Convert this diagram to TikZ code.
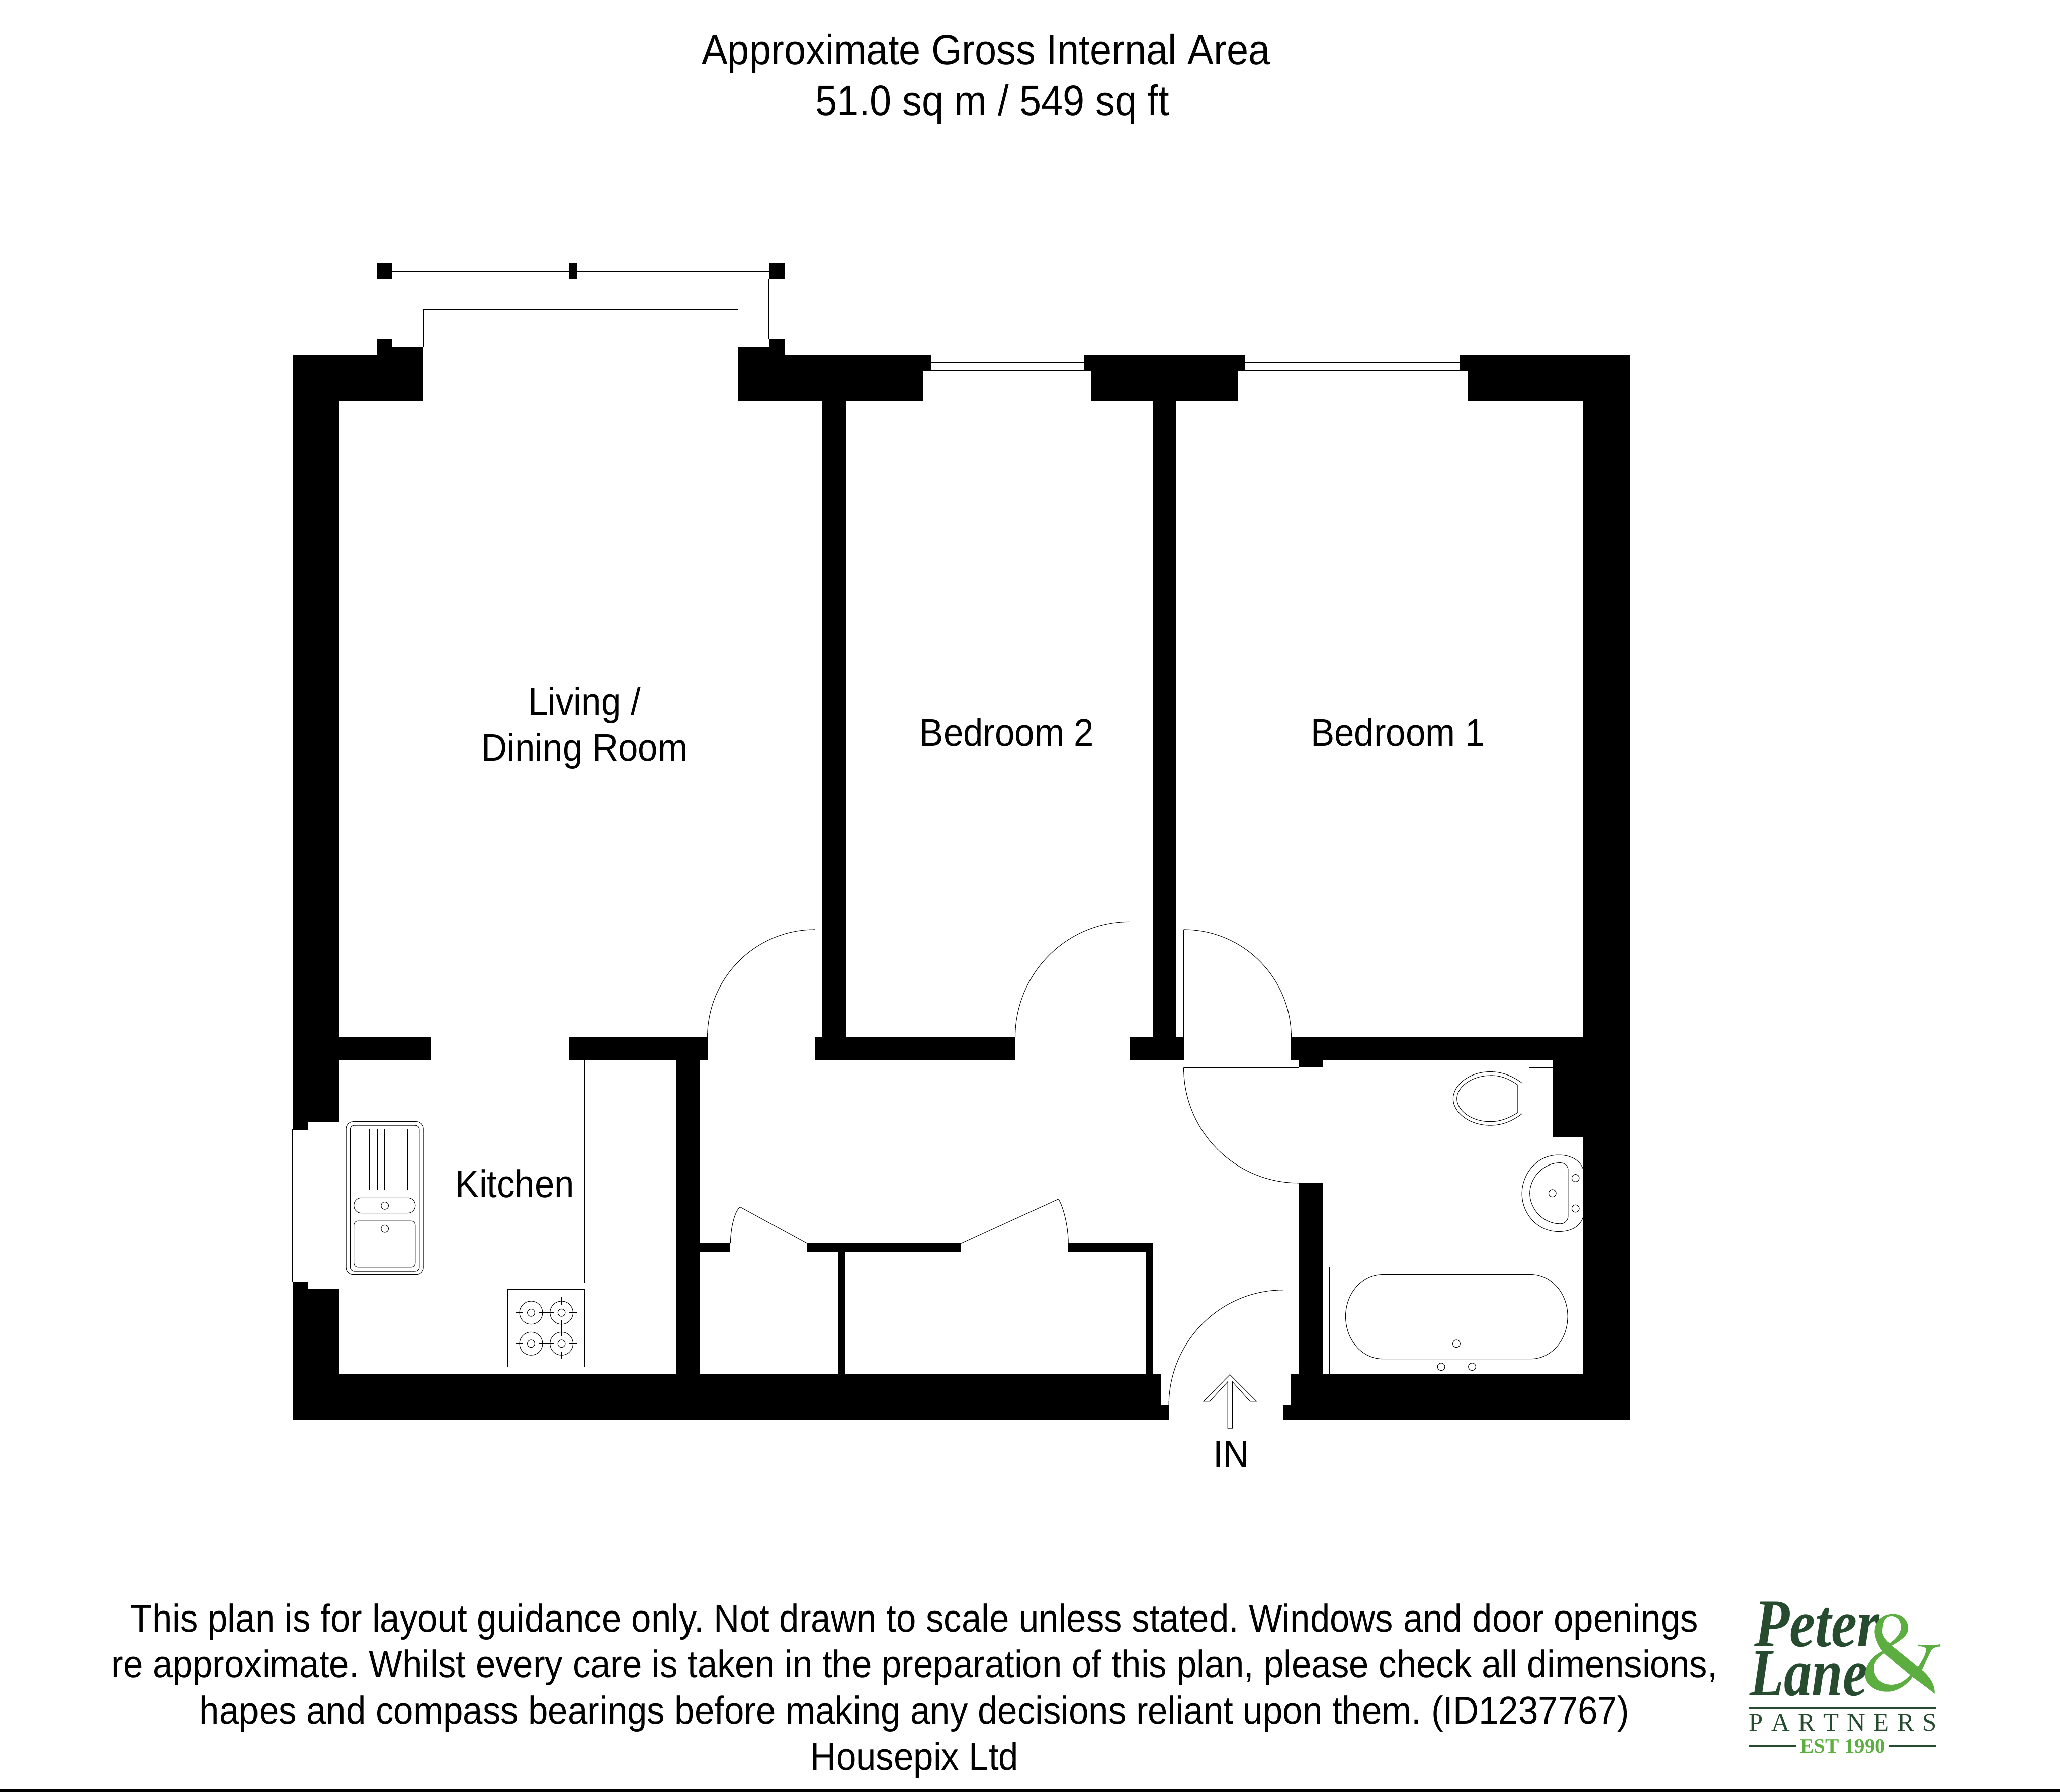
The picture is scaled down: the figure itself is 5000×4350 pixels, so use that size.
\documentclass[tikz,border=0pt]{standalone}
\usepackage{fontspec}
\setmainfont[FakeStretch=0.92]{Liberation Sans}
\newfontfamily\logofont{Liberation Serif}
\usetikzlibrary{calc}
\definecolor{logodark}{HTML}{264B2E}
\definecolor{logolight}{HTML}{5DAE41}
\newcommand{\wl}[4]{\fill[black] (#1,#2) rectangle (#3,#4);}
\newcommand{\qarc}[6]{\draw[thin line] (#1,#2) .. controls ($(#1,#2)!.5523!(#5,#6)$) and ($(#3,#4)!.5523!(#5,#6)$) .. (#3,#4);}
\tikzset{
  thin line/.style={line width=1.25pt,black},
  titlelabel/.style={anchor=base,inner sep=0pt,font=\fontsize{103}{103}\selectfont},
  smalllabel/.style={anchor=base,inner sep=0pt,font=\frenchspacing\fontsize{94}{94}\selectfont},
  logotext/.style={anchor=base,inner sep=0pt,text=logodark},
  logorule/.style={line width=3pt,logodark}
}
\begin{document}
\begin{tikzpicture}[x=1pt,y=-1pt]
\useasboundingbox (0,0) rectangle (5000,4350);
\fill[white] (0,0) rectangle (5000,4350);
% walls
\wl{710}{862}{748}{2742}\wl{748}{862}{823}{2723}
\wl{710}{3113}{748}{3449}\wl{748}{3131}{823}{3449}
\wl{710}{862}{915}{974}\wl{915}{824}{952}{974}\wl{952}{843}{1028}{974}
\wl{1791}{843}{1866}{974}\wl{1866}{824}{1904}{974}\wl{1904}{862}{2240}{974}
\wl{2240}{862}{2259}{899}\wl{2631}{862}{2649}{899}\wl{2649}{862}{3005}{974}
\wl{3005}{862}{3023}{899}\wl{3544}{862}{3562}{899}\wl{3562}{862}{3956}{974}
\wl{3843}{862}{3956}{3449}
\wl{1996}{974}{2053}{2518}\wl{2798}{974}{2855}{2518}
\wl{823}{2518}{1046}{2575}\wl{1381}{2518}{1717}{2575}\wl{1978}{2518}{2464}{2575}
\wl{2742}{2518}{2874}{2575}\wl{3134}{2518}{3843}{2575}
\wl{3152}{2575}{3210}{2592}\wl{3153}{2872}{3210}{3336}
\wl{3768}{2575}{3843}{2761}\wl{1642}{2575}{1699}{3336}
\wl{1699}{3019}{1773}{3039}\wl{1959}{3019}{2333}{3039}\wl{2593}{3019}{2799}{3039}
\wl{2034}{3039}{2052}{3336}\wl{2781}{3039}{2799}{3336}
\wl{710}{3336}{2817}{3449}\wl{2817}{3412}{2837}{3449}
\wl{3115}{3412}{3134}{3449}\wl{3134}{3336}{3956}{3449}
% bay window
\wl{915}{639}{952}{677}\wl{1381}{639}{1401}{677}\wl{1866}{639}{1904}{677}
\draw[thin line] (952,639) -- (1866,639) (952,658) -- (1866,658) (952,677) -- (1866,677);
\draw[thin line] (915,677) -- (915,824) (934,677) -- (934,824) (952,677) -- (952,843);
\draw[thin line] (1866,677) -- (1866,824) (1885,677) -- (1885,824) (1903,677) -- (1903,824);
\draw[thin line] (1028,843) -- (1028,751) -- (1791,751) -- (1791,843);
% bedroom windows
\draw[thin line] (2259,862) -- (2631,862) (2259,880) -- (2631,880) (2240,899) -- (2649,899) (2240,973) -- (2649,973);
\draw[thin line] (3023,862) -- (3544,862) (3023,880) -- (3544,880) (3005,899) -- (3562,899) (3005,973) -- (3562,973);
% kitchen window and units
\draw[thin line] (710,2742) -- (748,2742) (710,3113) -- (748,3113);
\draw[thin line] (710,2742) -- (710,3113) (728,2742) -- (728,3113) (748,2723) -- (748,3131);
\draw[thin line] (823,2723) -- (823,3131);
\draw[thin line] (748,2723) -- (823,2723) (748,3131) -- (823,3131);
\draw[thin line] (1046,2575) -- (1046,3114) -- (1419,3114) -- (1419,2575);
% sink
\draw[thin line,rounded corners=17pt] (840,2723) rectangle (1028,3094);
\draw[thin line,rounded corners=10pt] (850,2732) rectangle (1018,3086);
\foreach \gx in {859,878,896,916,933,952,971,989,1008}
  \draw[thin line] (\gx,2741) -- (\gx,2889);
\draw[thin line,rounded corners=18pt] (859,2908) rectangle (1008,2945);
\draw[thin line,rounded corners=10pt] (859,2964) rectangle (1008,3076);
\draw[thin line] (934,2927) circle[radius=9pt] (934,2983) circle[radius=9pt];
% hob
\draw[thin line] (1232,3131) rectangle (1419,3319);
\foreach \bx/\by in {1289/3187,1363/3187,1289/3262,1363/3262}{
  \draw[thin line] (\bx,\by) circle[radius=28pt] (\bx,\by) circle[radius=9pt];
  \draw[thin line] (\bx-37.5,\by) -- (\bx-19,\by) (\bx+19,\by) -- (\bx+37.5,\by)
                   (\bx,\by-37.5) -- (\bx,\by-19) (\bx,\by+19) -- (\bx,\by+37.5);
}
% doors
\draw[thin line] (1978,2257) -- (1978,2518);
\qarc{1717}{2518}{1978}{2257}{1717}{2257}
\draw[thin line] (2742,2238) -- (2742,2518);
\qarc{2464}{2518}{2742}{2238}{2464}{2238}
\draw[thin line] (2873,2257) -- (2873,2518);
\qarc{2873}{2257}{3134}{2518}{3134}{2257}
\draw[thin line] (2873,2592) -- (3152,2592);
\qarc{2873}{2592}{3152}{2872}{2873}{2872}
\draw[thin line] (3115,3132) -- (3115,3412);
\qarc{2837}{3412}{3115}{3132}{2837}{3132}
\draw[thin line] (1959,3019) -- (1796,2930);
\qarc{1773}{3019}{1796}{2930}{1773}{2950}
\draw[thin line] (2333,3019) -- (2569,2911);
\qarc{2593}{3019}{2569}{2911}{2593}{2950}
% entrance arrow
\draw[thin line] (2980,3468) -- (2980,3354) -- (2936,3402) -- (2921,3402) -- (2985,3337)
  -- (3050,3402) -- (3034,3402) -- (2991,3354) -- (2991,3468) -- cycle;
% toilet
\draw[thin line] (3768,2592) -- (3712,2592) -- (3712,2741) -- (3768,2741);
\draw[thin line] (3712,2629) -- (3694,2629) -- (3694,2704) -- (3712,2704);
\draw[thin line] (3694,2629) .. controls (3665,2608) and (3640,2602) .. (3617,2602)
  .. controls (3565,2602) and (3527,2635) .. (3527,2667)
  .. controls (3527,2700) and (3565,2732) .. (3617,2732)
  .. controls (3640,2732) and (3665,2726) .. (3694,2704);
\draw[thin line] (3684,2634) .. controls (3660,2617) and (3640,2611) .. (3620,2611)
  .. controls (3570,2611) and (3536,2640) .. (3536,2667)
  .. controls (3536,2695) and (3570,2723) .. (3617,2723)
  .. controls (3640,2723) and (3660,2716) .. (3684,2701) -- cycle;
% basin
\draw[thin line] (3843,2840) .. controls (3835,2815) and (3810,2804) .. (3783,2804)
  .. controls (3730,2804) and (3694,2850) .. (3694,2898)
  .. controls (3694,2945) and (3730,2990) .. (3783,2990)
  .. controls (3810,2990) and (3835,2980) .. (3843,2953);
\draw[thin line] (3806,2840) .. controls (3806,2830) and (3797,2823) .. (3787,2823)
  .. controls (3745,2823) and (3713,2860) .. (3713,2897)
  .. controls (3713,2935) and (3745,2971) .. (3787,2971)
  .. controls (3797,2971) and (3806,2963) .. (3806,2953) -- cycle;
\draw[thin line] (3824,2860) circle[radius=9pt] (3824,2934) circle[radius=9pt] (3768,2897) circle[radius=9pt];
% bath
\draw[thin line] (3227,3336) -- (3227,3076) -- (3843,3076);
\draw[thin line] (3356,3094) -- (3716,3094) .. controls (3765,3094) and (3805,3140) .. (3805,3196)
  .. controls (3805,3253) and (3765,3299) .. (3716,3299) -- (3356,3299)
  .. controls (3306,3299) and (3266,3253) .. (3266,3196)
  .. controls (3266,3140) and (3306,3094) .. (3356,3094) -- cycle;
\draw[thin line] (3535,3262) circle[radius=9pt] (3498,3318) circle[radius=9pt] (3573,3318) circle[radius=9pt];
% texts
\node[titlelabel] (title1) at (2393,157) {Approximate Gross Internal Area};
\node[titlelabel] (title2) at (2409,280) {51.0 sq m / 549 sq ft};
\node[smalllabel] (living1) at (1419,1736) {Living /};
\node[smalllabel] (living2) at (1419,1848) {Dining Room};
\node[smalllabel] (bed2) at (2444,1811) {Bedroom 2};
\node[smalllabel] (bed1) at (3393,1811) {Bedroom 1};
\node[smalllabel] (kitchen) at (1250,2907) {Kitchen};
\node[smalllabel] (in) at (2988,3562) {IN};
\node[smalllabel] (note1) at (2220,3962) {This plan is for layout guidance only. Not drawn to scale unless stated. Windows and door openings};
\node[smalllabel] (note2) at (2220,4073) {re approximate. Whilst every care is taken in the preparation of this plan, please check all dimensions,};
\node[smalllabel] (note3) at (2220,4185) {hapes and compass bearings before making any decisions reliant upon them. (ID1237767)};
\node[smalllabel] (note4) at (2220,4297) {Housepix Ltd};
% logo
\node[logotext,font=\logofont\bfseries\itshape\fontsize{165}{165}\selectfont] (logopeter) at (4410,3997) {\scalebox{.85}[1]{Peter}};
\node[logotext,font=\logofont\bfseries\itshape\fontsize{165}{165}\selectfont] (logolane) at (4390,4117) {\scalebox{.82}[1]{Lane}};
\begin{scope}[shift={(4150,3820)},x=.3827pt,y=-.338pt]
\fill[logolight] (1045,420) .. controls (1045,340) and (1100,290) .. (1160,290) .. controls (1225,290) and (1258,340) .. (1258,395) .. controls (1258,445) and (1210,480) .. (1150,520) -- (1135,505) .. controls (1180,470) and (1212,430) .. (1212,385) .. controls (1212,335) and (1185,305) .. (1150,305) .. controls (1115,305) and (1095,345) .. (1095,420) -- cycle;
\fill[logolight] (1045,420) .. controls (1050,480) and (1075,530) .. (1100,565) .. controls (1170,640) and (1230,690) .. (1280,740) .. controls (1340,790) and (1390,830) .. (1425,865) .. controls (1430,810) and (1400,745) .. (1340,690) .. controls (1270,625) and (1210,570) .. (1150,515) .. controls (1120,480) and (1095,450) .. (1095,420) -- cycle;
\fill[logolight] (1100,555) .. controls (1030,590) and (985,660) .. (985,730) .. controls (985,800) and (1050,850) .. (1125,850) .. controls (1190,850) and (1250,800) .. (1285,745) -- (1270,730) .. controls (1240,770) and (1200,800) .. (1150,800) .. controls (1085,800) and (1040,745) .. (1040,680) .. controls (1040,640) and (1065,600) .. (1110,570) -- cycle;
\fill[logolight] (1318,510) .. controls (1360,516) and (1420,516) .. (1462,508) -- (1462,525) .. controls (1440,522) and (1420,530) .. (1405,550) .. controls (1385,590) and (1360,660) .. (1340,705) -- (1315,680) .. controls (1345,630) and (1375,570) .. (1372,540) .. controls (1365,525) and (1340,522) .. (1318,522) -- cycle;
\end{scope}
\draw[logorule] (4245,4146) -- (4700,4146);
\node[logotext,font=\logofont\fontsize{62}{62}\selectfont] (logopartners) at (4473,4202) {\makebox[455pt]{P\hfill A\hfill R\hfill T\hfill N\hfill E\hfill R\hfill S}};
\node[logotext,text=logolight,font=\logofont\bfseries\fontsize{50}{50}\selectfont] (logoest) at (4473,4256) {EST 1990};
\draw[logorule] (4245,4239) -- (4360,4239) (4584,4239) -- (4700,4239);
% bottom rule
\fill[black] (0,4345) rectangle (5000,4350);
\end{tikzpicture}
\end{document}
